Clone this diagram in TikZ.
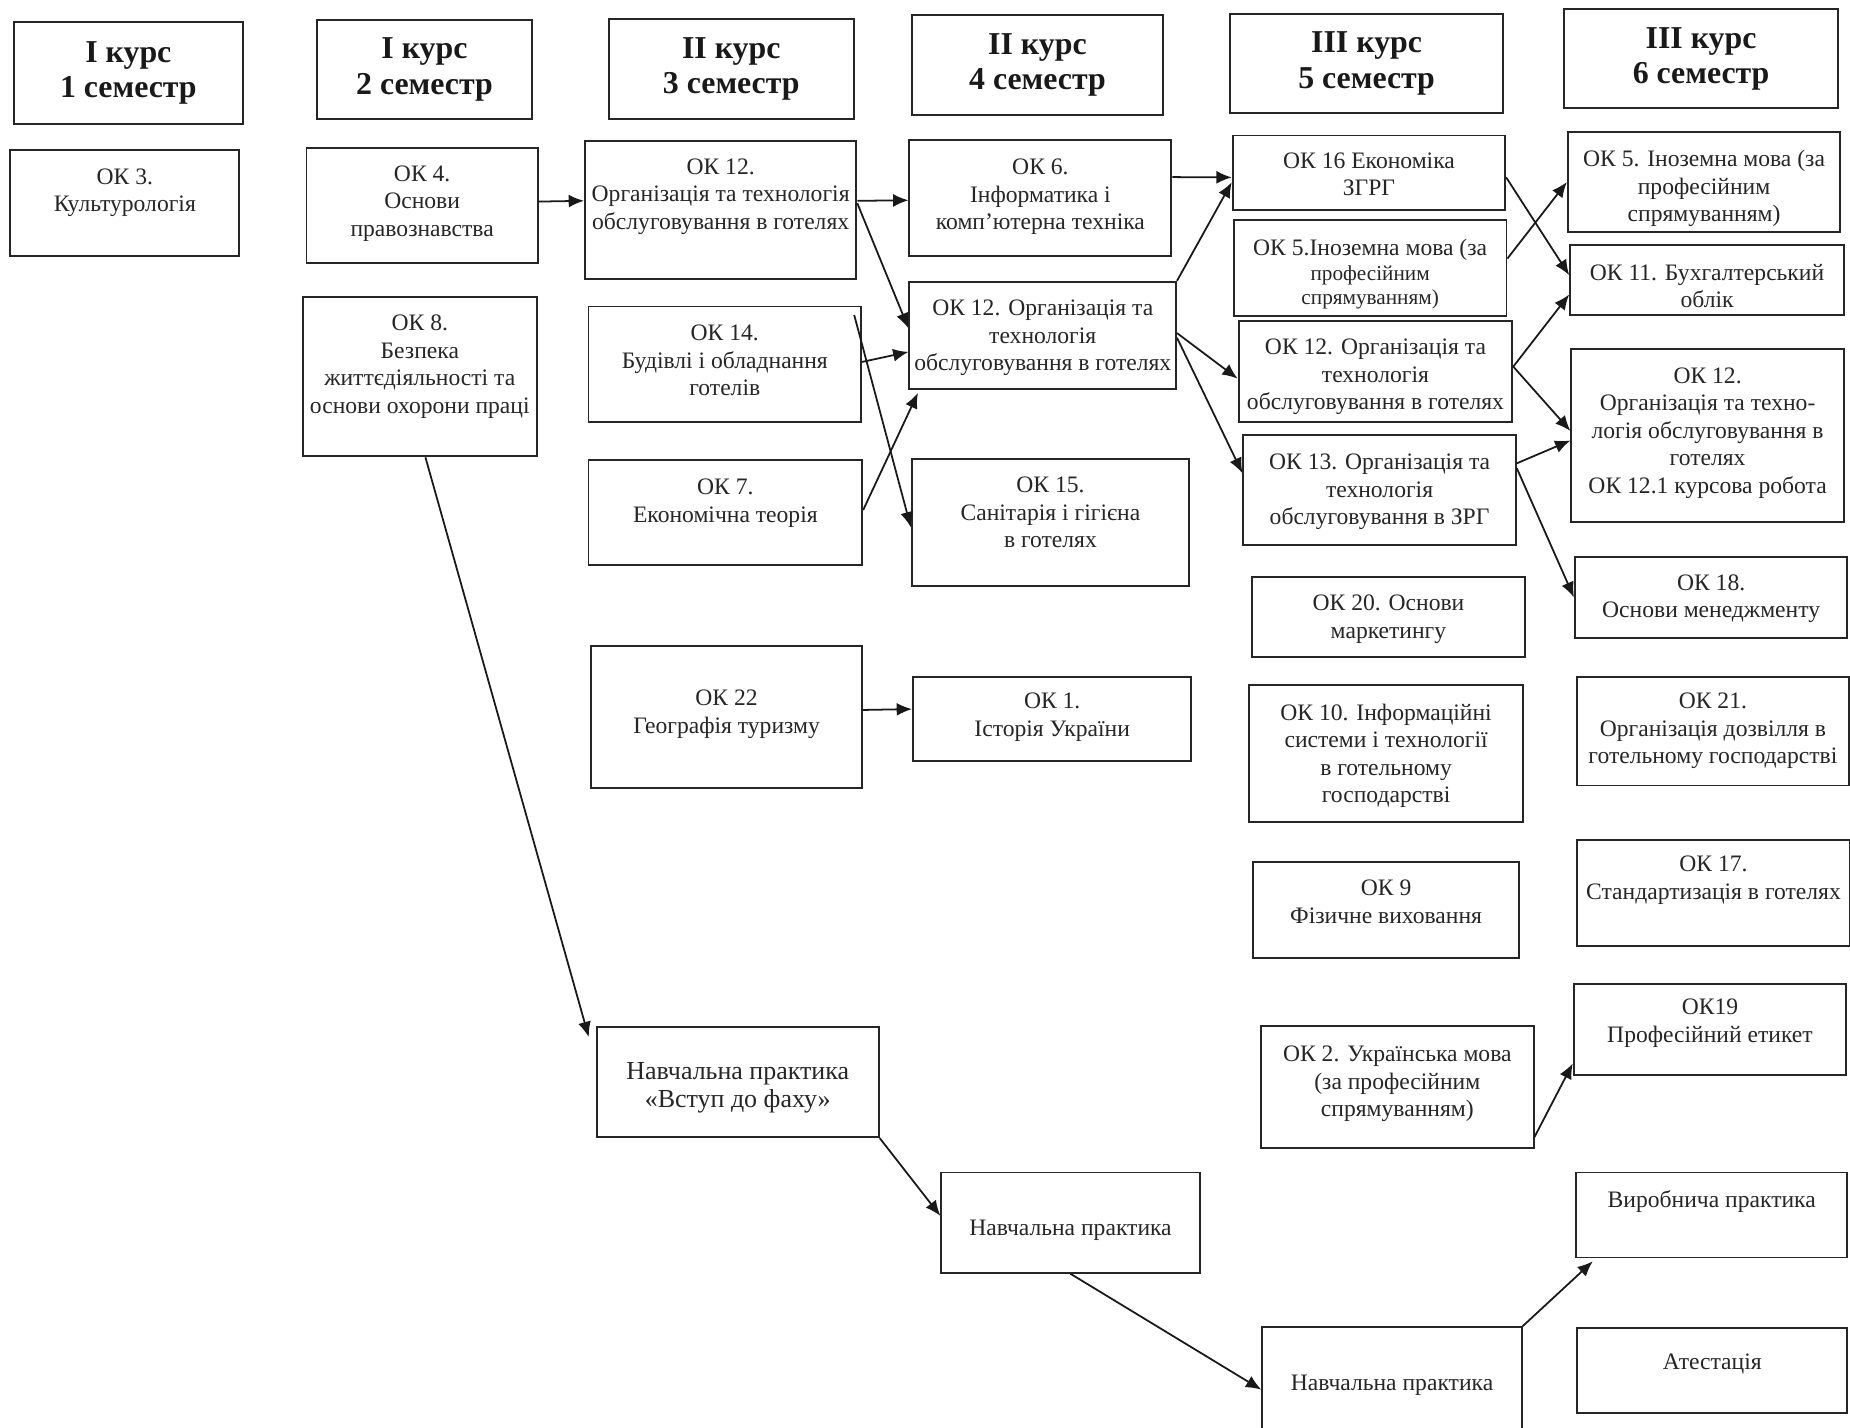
\documentclass[tikz,border=0pt]{standalone}
\usepackage{fontspec}
\setmainfont{Liberation Serif}
\usetikzlibrary{arrows.meta,positioning}
\tikzset{wh/.style 2 args={minimum width=#1*.5pt,minimum height=#2*.5pt}}

\begin{document}
\begin{tikzpicture}[x=.5pt,y=-.5pt,
    box/.style={draw=black!85,line width=.8pt,anchor=north west,inner sep=0pt},
    hdr/.style={box,align=center,text=black!90,font=\fontsize{13.5}{15}\selectfont\bfseries},
    txt/.style={inner sep=0pt,align=center,text=black!85,font=\fontsize{10}{11.7}\selectfont},
    arr/.style={draw=black!90,line width=.75pt,-{Latex[length=6.5pt,width=5.5pt]}}]
    \fill[white] (0,0) rectangle (1568,1210);
    \clip (0,0) rectangle (1568,1210);

    \node[hdr, wh={194}{86}] (h1) at (11,18) {I курс\\1 семестр};
    \node[hdr, wh={182}{84}] (h2) at (268,16) {I курс\\2 семестр};
    \node[hdr, wh={208}{85}] (h3) at (515,15) {II курс\\3 семестр};
    \node[hdr, wh={213}{85}] (h4) at (772,12) {II курс\\4 семестр};
    \node[hdr, wh={231}{84}] (h5) at (1042,11) {III курс\\5 семестр};
    \node[hdr, wh={232}{84}] (h6) at (1325,7) {III курс\\6 семестр};

    \node[box, wh={194}{90}] (ok3) at (8,126) {};
    \node[txt, below=8.2pt of ok3.north] (ok3t) {ОК 3.\\Культурологія};

    \node[box, wh={196}{97}] (ok4) at (259,125) {};
    \node[txt, below=7.5pt of ok4.north] (ok4t) {ОК 4.\\Основи\\правознавства};
    \node[box, wh={198}{135}] (ok8) at (256,251) {};
    \node[txt, below=7.8pt of ok8.north] (ok8t) {ОК 8.\\Безпека\\життєдіяльності та\\основи охорони праці};

    \node[box, wh={230}{117}] (ok12a) at (495,119) {};
    \node[txt, below=7.5pt of ok12a.north] (ok12at) {ОК 12.\\Організація та технологія\\обслуговування в готелях};
    \node[box, wh={231}{98}] (ok14) at (498,259) {};
    \node[txt, below=8pt of ok14.north] (ok14t) {ОК 14.\\Будівлі і обладнання\\готелів};
    \node[box, wh={232}{89}] (ok7) at (498,389) {};
    \node[txt, below=8.2pt of ok7.north] (ok7t) {ОК 7.\\Економічна теорія};
    \node[box, wh={230}{120}] (ok22) at (500,547) {};
    \node[txt, below=18.8pt of ok22.north] (ok22t) {ОК 22\\Географія туризму};
    \node[box, wh={239}{93}] (pr1) at (505,870) {};
    \node[txt, font=\fontsize{11}{12}\selectfont, below=15pt of pr1.north] (pr1t) {Навчальна практика\\«Вступ до фаху»};

    \node[box, wh={222}{98}] (ok6) at (770,118) {};
    \node[txt, below=8.1pt of ok6.north] (ok6t) {ОК 6.\\Інформатика і\\комп’ютерна техніка};
    \node[box, wh={226}{91}] (ok12b) at (770,238) {};
    \node[txt, below=8pt of ok12b.north] (ok12bt) {ОК 12. Організація та\\технологія\\обслуговування в готелях};
    \node[box, wh={235}{108}] (ok15) at (772,388) {};
    \node[txt, below=8pt of ok15.north] (ok15t) {ОК 15.\\Санітарія і гігієна\\в готелях};
    \node[box, wh={236}{71}] (ok1) at (773,573) {};
    \node[txt, below=7pt of ok1.north] (ok1t) {ОК 1.\\Історія України};
    \node[box, wh={219}{85}] (pr2) at (797,993) {};
    \node[txt, below=20.5pt of pr2.north] (pr2t) {Навчальна практика};

    \node[box, wh={231}{63}] (ok16) at (1044,114) {};
    \node[txt, below=7.5pt of ok16.north] (ok16t) {ОК 16 Економіка\\ЗГРГ};
    \node[box, wh={231}{81}] (ok5a) at (1045,186) {};
    \node[txt, below=8.2pt of ok5a.north] (ok5at) {ОК 5.Іноземна мова (за\\[-1pt]{\fontsize{9}{10}\selectfont професійним}\\[-1.5pt]{\fontsize{9}{10}\selectfont спрямуванням)}};
    \node[box, wh={232}{86}] (ok12c) at (1049,271) {};
    \node[txt, below=8pt of ok12c.north] (ok12ct) {ОК 12. Організація та\\технологія\\обслуговування в готелях};
    \node[box, wh={231}{93}] (ok13) at (1053,368) {};
    \node[txt, below=8.2pt of ok13.north] (ok13t) {ОК 13. Організація та\\технологія\\обслуговування в ЗРГ};
    \node[box, wh={232}{68}] (ok20) at (1060,488) {};
    \node[txt, below=8pt of ok20.north] (ok20t) {ОК 20. Основи\\маркетингу};
    \node[box, wh={232}{116}] (ok10) at (1058,580) {};
    \node[txt, below=8pt of ok10.north] (ok10t) {ОК 10. Інформаційні\\системи і технології\\в готельному\\господарстві};
    \node[box, wh={226}{81}] (ok9) at (1061,730) {};
    \node[txt, below=7.8pt of ok9.north] (ok9t) {ОК 9\\Фізичне виховання};
    \node[box, wh={231}{103}] (ok2) at (1068,869) {};
    \node[txt, below=8.5pt of ok2.north] (ok2t) {ОК 2. Українська мова\\(за професійним\\спрямуванням)};
    \node[box, wh={220}{106}] (pr3) at (1069,1124) {};
    \node[txt, below=20.5pt of pr3.north] (pr3t) {Навчальна практика};

    \node[box, wh={231}{85}] (ok5b) at (1328,111) {};
    \node[txt, below=8pt of ok5b.north] (ok5bt) {ОК 5. Іноземна мова (за\\професійним\\спрямуванням)};
    \node[box, wh={232}{59}] (ok11) at (1330,207) {};
    \node[txt, below=8.2pt of ok11.north] (ok11t) {ОК 11. Бухгалтерський\\облік};
    \node[box, wh={231}{147}] (ok12d) at (1331,295) {};
    \node[txt, below=8pt of ok12d.north] (ok12dt) {ОК 12.\\Організація та техно-\\логія обслуговування в\\готелях\\ОК 12.1 курсова робота};
    \node[box, wh={231}{69}] (ok18) at (1334,471) {};
    \node[txt, below=7.7pt of ok18.north] (ok18t) {ОК 18.\\Основи менеджменту};
    \node[box, wh={230}{92}] (ok21) at (1336,573) {};
    \node[txt, below=7pt of ok21.north] (ok21t) {ОК 21.\\Організація дозвілля в\\готельному господарстві};
    \node[box, wh={231}{90}] (ok17) at (1336,711) {};
    \node[txt, below=7pt of ok17.north] (ok17t) {ОК 17.\\Стандартизація в готелях};
    \node[box, wh={231}{77}] (ok19) at (1333,833) {};
    \node[txt, below=6.8pt of ok19.north] (ok19t) {ОК19\\Професійний етикет};
    \node[box, wh={230}{72}] (vyr) at (1335,993) {};
    \node[txt, below=7.7pt of vyr.north] (vyrt) {Виробнича практика};
    \node[box, wh={229}{72}] (atest) at (1336,1125) {};
    \node[txt, below=11pt of atest.north] (atestt) {Атестація};

    \coordinate (c14) at (724,267);
    \coordinate (c12b) at (778,333);
    \coordinate (cpr1) at (499,879);
    \coordinate (cvyr) at (1350,1069);

    \draw[arr] (ok4.2) -- (ok12a.176);
    \draw[arr] (ok12a.4) -- (ok6.181);
    \draw[arr] (ok12a.3) -- (ok12b.177);
    \draw[arr] (c14) -- (ok15.182);
    \draw[arr] (ok14.1) -- (ok12b.187);
    \draw[arr] (ok7.1) -- (c12b);
    \draw[arr] (ok22.3) -- (ok1.176);
    \draw[arr] (ok6.9) -- (ok16.182);
    \draw[arr] (ok12b.north east) -- (ok16.184);
    \draw[arr] (ok12b.1) -- (ok12c.183);
    \draw[arr] (ok12b.-1) -- (ok13.173);
    \draw[arr] (ok16.-2) -- (ok11.178);
    \draw[arr] (ok5a.4) -- (ok5b.west);
    \draw[arr] (ok12c.2) -- (ok11.186);
    \draw[arr] (ok12c.2) -- (ok12d.178);
    \draw[arr] (ok13.11) -- (ok12d.182);
    \draw[arr] (ok13.9) -- (ok18.west);
    \draw[arr] (ok2.-20) -- (ok19.194);
    \draw[arr] (ok8.-86) -- (cpr1);
    \draw[arr] (pr1.south east) -- (pr2.177);
    \draw[arr] (pr2.south) -- (pr3.west);
    \draw[arr] (pr3.north east) -- (cvyr);
\end{tikzpicture}
\end{document}
